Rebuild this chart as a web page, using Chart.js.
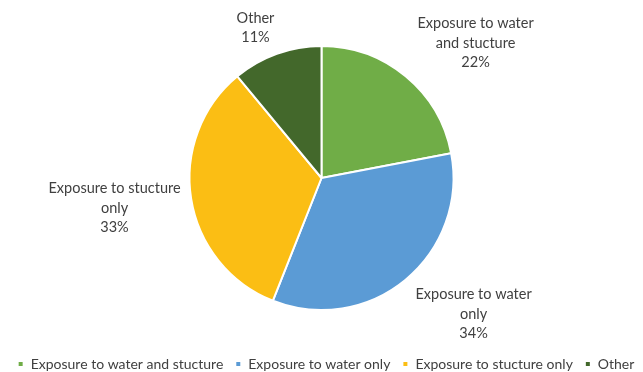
<!DOCTYPE html>
<html>
<head>
<meta charset="utf-8">
<script src="https://cdn.jsdelivr.net/npm/chart.js@4/dist/chart.umd.min.js"></script>
<style>
html,body{margin:0;padding:0;background:#fff;}
#wrap{width:643px;height:372px;position:relative;}
</style>
</head>
<body>
<div id="wrap"><canvas id="c" width="643" height="372"></canvas></div>
<script>
const categories = ["Exposure to water and stucture", "Exposure to water only", "Exposure to stucture only", "Other"];
const values = [22, 34, 33, 11];
const labelLines = [["Exposure to water", "and stucture"], ["Exposure to water", "only"], ["Exposure to stucture", "only"], ["Other"]];
const colors = ["#70AD47", "#5B9BD5", "#FBBE14", "#43682B"];
// label placement relative to pie centre, in units of radius
const labelOffsets = [[1.167, -1.023], [1.152, 1.03], [-1.568, 0.227], [-0.5, -1.136]];

const outLabels = {
  id: 'outLabels',
  afterDatasetsDraw(chart) {
    const ctx = chart.ctx;
    const meta = chart.getDatasetMeta(0);
    const total = values.reduce((a, b) => a + b, 0);
    ctx.save();
    ctx.font = '14.5px Lato';
    ctx.fillStyle = '#404040';
    ctx.textAlign = 'center';
    ctx.textBaseline = 'middle';
    meta.data.forEach((arc, i) => {
      const r = arc.outerRadius;
      const cx = arc.x + labelOffsets[i][0] * r;
      const cy = arc.y + labelOffsets[i][1] * r;
      const lines = labelLines[i].concat([Math.round(values[i] / total * 100) + '%']);
      const lh = 19.5;
      const y0 = cy - (lines.length - 1) * lh / 2;
      lines.forEach((t, k) => ctx.fillText(t, cx, y0 + k * lh));
    });
    ctx.restore();
  }
};

new Chart(document.getElementById('c'), {
  type: 'pie',
  data: {
    labels: categories,
    datasets: [{
      data: values,
      backgroundColor: colors,
      borderColor: '#ffffff',
      borderWidth: 2,
      radius: 132
    }]
  },
  options: {
    responsive: false,
    animation: false,
    layout: { padding: { top: 11, left: 0, right: -9, bottom: -9 } },
    plugins: {
      tooltip: { enabled: false },
      legend: {
        position: 'bottom',
        labels: {
          boxWidth: 6,
          boxHeight: 6,
          padding: 12,
          color: '#404040',
          font: { family: 'Lato', size: 14 }
        }
      }
    }
  },
  plugins: [outLabels]
});
</script>
</body>
</html>
